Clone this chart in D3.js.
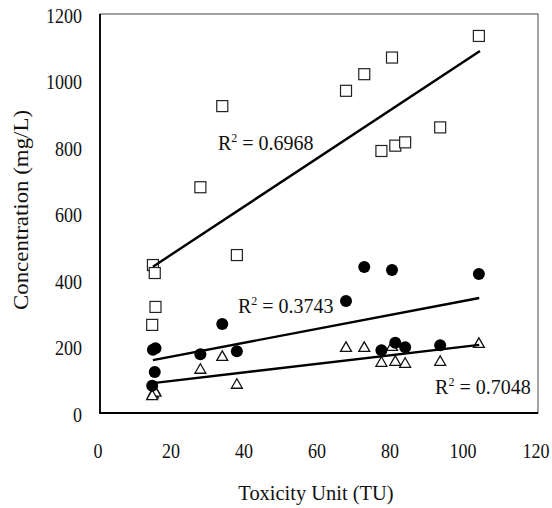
<!DOCTYPE html>
<html>
<head>
<meta charset="utf-8">
<script src="https://cdn.jsdelivr.net/npm/d3@7"></script>
<style>
  body { margin: 0; background: #fff; }
  text { font-family: "Liberation Serif", "Times New Roman", serif; fill: #111; }
</style>
</head>
<body>
<div id="chart"></div>
<script>
// values (Toxicity Unit vs concentration, three series)
const toxicityUnit = [14.5, 15.0, 15.2, 14.3, 27.5, 33.5, 37.5, 67.4, 72.4, 80.0, 103.8, 77.1, 80.9, 83.6, 93.2];
const squareConc = [445, 421, 319, 265, 679, 923, 475, 969, 1019, 1069, 1134, 788, 804, 814, 859];
const circleConc = [190, 123, 195, 82, 177, 268, 186, 337, 439, 430, 418, 189, 211, 198, 204];
const triangleConc = [55, 65, 60, 50, 129, 168, 84, 195, 195, 198, 207, 150, 153, 147, 153];

// trendline end points as drawn in the figure
const squareTrend = [[14.5, 440], [104.1, 1089]];
const circleTrend = [[14.5, 159], [103.9, 346]];
const triangleTrend = [[14.5, 90], [103.9, 205]];

// R-squared annotations (label, anchor in data units)
const r2Labels = [
  { value: "0.6968", x: 32.3, y: 791 },
  { value: "0.3743", x: 37.8, y: 301 },
  { value: "0.7048", x: 91.8, y: 57 },
];

const xTicks = [0, 20, 40, 60, 80, 100, 120];
const yTicks = [0, 200, 400, 600, 800, 1000, 1200];

const W = 552, H = 508;
const PLOT = { left: 100, right: 538, top: 14, bottom: 413 };

const svg = d3.select("#chart").append("svg")
  .attr("width", W)
  .attr("height", H);

const x = d3.scaleLinear().domain([0, 120]).range([PLOT.left, PLOT.right]);
const y = d3.scaleLinear().domain([0, 1200]).range([PLOT.bottom, PLOT.top]);

// text that is a little narrower than normal, like the scanned figure
function squeezed(g, str, px, py, size, sx, anchor, rotate) {
  const t = g.append("text")
    .attr("transform", `translate(${px},${py})` + (rotate ? ` rotate(${rotate})` : "") + ` scale(${sx},1)`)
    .attr("font-size", size)
    .attr("text-anchor", anchor)
    .attr("dominant-baseline", "central")
    .text(str);
  return t;
}

// frame
svg.append("rect")
  .attr("x", PLOT.left).attr("y", PLOT.top)
  .attr("width", PLOT.right - PLOT.left)
  .attr("height", PLOT.bottom - PLOT.top)
  .attr("fill", "none")
  .attr("stroke", "#444")
  .attr("stroke-width", 1);
svg.append("path")
  .attr("d", `M${PLOT.left},${PLOT.top}V${PLOT.bottom}H${PLOT.right}`)
  .attr("fill", "none")
  .attr("stroke", "#000")
  .attr("stroke-width", 1.8);

// tick labels
const axisG = svg.append("g");
yTicks.forEach((v) => squeezed(axisG, v, 82, y(v) + 1, 22, 0.82, "end"));
xTicks.forEach((v) => squeezed(axisG, v, x(v) - 2, 450, 22, 0.82, "middle"));

// axis titles
squeezed(axisG, "Toxicity Unit (TU)", 316, 493, 22, 0.93, "middle");
squeezed(axisG, "Concentration (mg/L)", 21, 210, 22, 1.04, "middle", -90);

// markers
const marks = svg.append("g");
const rows = toxicityUnit.map((tu, i) => ({
  tu, sq: squareConc[i], ci: circleConc[i], tr: triangleConc[i],
}));

marks.append("g").selectAll("rect")
  .data(rows)
  .join("rect")
  .attr("x", (d) => x(d.tu) - 5.5)
  .attr("y", (d) => y(d.sq) - 5.5)
  .attr("width", 11)
  .attr("height", 11)
  .attr("fill", "#fff")
  .attr("stroke", "#222")
  .attr("stroke-width", 1.2);

const tri = d3.symbol().type(d3.symbolTriangle).size(52);
marks.append("g").selectAll("path")
  .data(rows)
  .join("path")
  .attr("d", tri)
  .attr("transform", (d) => `translate(${x(d.tu)},${y(d.tr)})`)
  .attr("fill", "#fff")
  .attr("stroke", "#111")
  .attr("stroke-width", 1.3);

marks.append("g").selectAll("circle")
  .data(rows)
  .join("circle")
  .attr("cx", (d) => x(d.tu))
  .attr("cy", (d) => y(d.ci))
  .attr("r", 6)
  .attr("fill", "#000");

// trendlines
const line = d3.line().x((d) => x(d[0])).y((d) => y(d[1]));
[squareTrend, circleTrend, triangleTrend].forEach((pts) => {
  svg.append("path")
    .attr("d", line(pts))
    .attr("fill", "none")
    .attr("stroke", "#000")
    .attr("stroke-width", 2.4);
});

// R^2 labels
r2Labels.forEach((d) => {
  const t = svg.append("text")
    .attr("x", x(d.x))
    .attr("y", y(d.y))
    .attr("font-size", 20);
  t.append("tspan").text("R");
  t.append("tspan").attr("font-size", 12).attr("dy", -8).text("2");
  t.append("tspan").attr("dy", 8).text(" = " + d.value);
});
</script>
</body>
</html>
